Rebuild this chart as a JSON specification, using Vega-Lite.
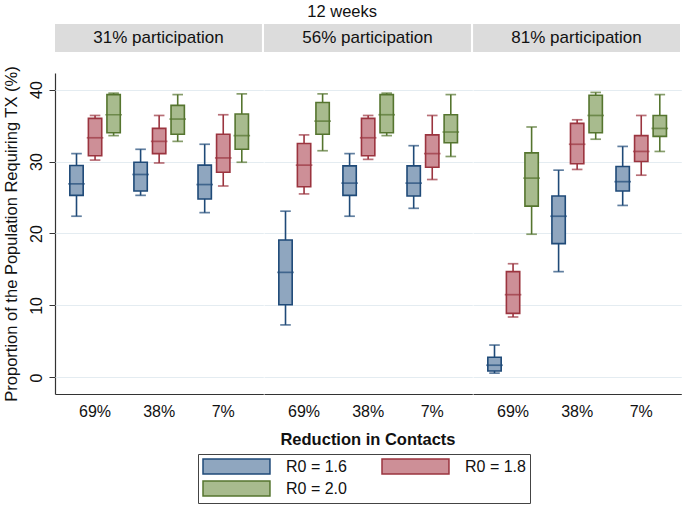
{
  "$schema": "https://vega.github.io/schema/vega-lite/v6.json",
  "padding": {"left": 3, "top": 3, "right": 2, "bottom": 2},
  "background": "white",
  "title": {"text": "12 weeks", "fontSize": 16.5, "fontWeight": "normal", "font": "Liberation Sans", "color": "#111", "anchor": "middle", "offset": 4},
  "config": {
    "font": "Liberation Sans",
    "view": {"stroke": null},
    "axis": {"labelFont": "Liberation Sans", "titleFont": "Liberation Sans", "labelFontSize": 16, "titleFontSize": 16.5, "labelColor": "#111", "titleColor": "#111", "titleFontWeight": "normal", "domainColor": "#333", "tickColor": "#333", "gridColor": "#e4ecf1", "domainWidth": 1.2},
    "legend": {"labelFont": "Liberation Sans", "labelFontSize": 16, "labelColor": "#111"}
  },
  "spacing": 13,
  "vconcat": [
    {
      "width": 625,
      "height": 28,
      "data": {"values": [
        {"participation": "31% participation"},
        {"participation": "56% participation"},
        {"participation": "81% participation"}
      ]},
      "encoding": {
        "x": {"field": "participation", "type": "nominal", "scale": {"paddingInner": 0.01, "paddingOuter": 0}, "axis": null}
      },
      "layer": [
        {"mark": {"type": "rect", "fill": "#dcdcdc"}},
        {"mark": {"type": "text", "fontSize": 17, "font": "Liberation Sans", "color": "#111"}, "encoding": {"text": {"field": "participation"}}}
      ]
    },
    {
      "data": {"values": [
        {"participation": "31% participation", "reduction": "69%", "R0": "R0 = 1.6", "min": 22.4, "q1": 25.3, "median": 26.9, "q3": 29.45, "max": 31.1},
        {"participation": "31% participation", "reduction": "69%", "R0": "R0 = 1.8", "min": 30.2, "q1": 30.8, "median": 33.3, "q3": 36.0, "max": 36.4},
        {"participation": "31% participation", "reduction": "69%", "R0": "R0 = 2.0", "min": 33.6, "q1": 34.0, "median": 36.5, "q3": 39.3, "max": 39.5},
        {"participation": "31% participation", "reduction": "38%", "R0": "R0 = 1.6", "min": 25.3, "q1": 25.9, "median": 28.2, "q3": 29.9, "max": 31.7},
        {"participation": "31% participation", "reduction": "38%", "R0": "R0 = 1.8", "min": 29.8, "q1": 31.1, "median": 32.8, "q3": 34.6, "max": 36.4},
        {"participation": "31% participation", "reduction": "38%", "R0": "R0 = 2.0", "min": 32.8, "q1": 33.8, "median": 35.9, "q3": 37.8, "max": 39.3},
        {"participation": "31% participation", "reduction": "7%", "R0": "R0 = 1.6", "min": 22.9, "q1": 24.8, "median": 26.8, "q3": 29.5, "max": 32.4},
        {"participation": "31% participation", "reduction": "7%", "R0": "R0 = 1.8", "min": 26.6, "q1": 28.5, "median": 30.5, "q3": 33.8, "max": 36.5},
        {"participation": "31% participation", "reduction": "7%", "R0": "R0 = 2.0", "min": 29.9, "q1": 31.7, "median": 33.6, "q3": 36.6, "max": 39.4},
        {"participation": "56% participation", "reduction": "69%", "R0": "R0 = 1.6", "min": 7.3, "q1": 10.1, "median": 14.6, "q3": 19.1, "max": 23.1},
        {"participation": "56% participation", "reduction": "69%", "R0": "R0 = 1.8", "min": 25.5, "q1": 26.5, "median": 29.5, "q3": 32.5, "max": 33.7},
        {"participation": "56% participation", "reduction": "69%", "R0": "R0 = 2.0", "min": 31.5, "q1": 33.8, "median": 35.6, "q3": 38.2, "max": 39.4},
        {"participation": "56% participation", "reduction": "38%", "R0": "R0 = 1.6", "min": 22.4, "q1": 25.3, "median": 27.0, "q3": 29.4, "max": 31.1},
        {"participation": "56% participation", "reduction": "38%", "R0": "R0 = 1.8", "min": 30.3, "q1": 30.8, "median": 33.3, "q3": 36.0, "max": 36.4},
        {"participation": "56% participation", "reduction": "38%", "R0": "R0 = 2.0", "min": 33.6, "q1": 34.0, "median": 36.5, "q3": 39.3, "max": 39.5},
        {"participation": "56% participation", "reduction": "7%", "R0": "R0 = 1.6", "min": 23.5, "q1": 25.2, "median": 27.0, "q3": 29.4, "max": 32.2},
        {"participation": "56% participation", "reduction": "7%", "R0": "R0 = 1.8", "min": 27.5, "q1": 29.2, "median": 31.1, "q3": 33.7, "max": 36.4},
        {"participation": "56% participation", "reduction": "7%", "R0": "R0 = 2.0", "min": 30.7, "q1": 32.6, "median": 34.1, "q3": 36.5, "max": 39.3},
        {"participation": "81% participation", "reduction": "69%", "R0": "R0 = 1.6", "min": 0.6, "q1": 0.9, "median": 1.7, "q3": 2.8, "max": 4.5},
        {"participation": "81% participation", "reduction": "69%", "R0": "R0 = 1.8", "min": 8.4, "q1": 8.9, "median": 11.5, "q3": 14.7, "max": 15.8},
        {"participation": "81% participation", "reduction": "69%", "R0": "R0 = 2.0", "min": 19.9, "q1": 23.8, "median": 27.7, "q3": 31.2, "max": 34.8},
        {"participation": "81% participation", "reduction": "38%", "R0": "R0 = 1.6", "min": 14.7, "q1": 18.6, "median": 22.4, "q3": 25.2, "max": 28.8},
        {"participation": "81% participation", "reduction": "38%", "R0": "R0 = 1.8", "min": 28.9, "q1": 29.7, "median": 32.4, "q3": 35.3, "max": 35.8},
        {"participation": "81% participation", "reduction": "38%", "R0": "R0 = 2.0", "min": 33.1, "q1": 34.0, "median": 36.4, "q3": 39.2, "max": 39.6},
        {"participation": "81% participation", "reduction": "7%", "R0": "R0 = 1.6", "min": 23.9, "q1": 25.9, "median": 27.2, "q3": 29.3, "max": 32.1},
        {"participation": "81% participation", "reduction": "7%", "R0": "R0 = 1.8", "min": 28.1, "q1": 30.0, "median": 31.4, "q3": 33.6, "max": 36.4},
        {"participation": "81% participation", "reduction": "7%", "R0": "R0 = 2.0", "min": 31.4, "q1": 33.5, "median": 34.6, "q3": 36.4, "max": 39.3}
      ]},
      "facet": {
        "column": {
          "field": "participation", "type": "nominal", "title": "Reduction in Contacts",
          "header": {"labels": false, "titleOrient": "bottom", "titleFontSize": 16.5, "titleFontWeight": "bold", "titleFont": "Liberation Sans", "titleColor": "#111", "titlePadding": 3}
        }
      },
      "spacing": 0,
      "resolve": {"axis": {"x": "independent"}},
      "spec": {
        "width": 208.3,
        "height": 321,
        "encoding": {
          "x": {"field": "reduction", "type": "nominal", "sort": ["69%", "38%", "7%"], "scale": {"paddingInner": 0.12, "paddingOuter": 0.185},
                "axis": {"title": null, "ticks": false, "labelAngle": 0, "labelPadding": 9, "labelBaseline": "top", "domainColor": "#333"}},
          "xOffset": {"field": "R0", "type": "nominal", "scale": {"paddingInner": 0.28, "paddingOuter": 0.16}}
        },
        "layer": [
          {
            "mark": {"type": "rule", "strokeWidth": 1.6},
            "encoding": {
              "y": {"field": "min", "type": "quantitative", "scale": {"domain": [-2.3, 42.3], "nice": false, "zero": false},
                    "axis": {"title": "Proportion of the Population Requiring TX (%)", "values": [0, 10, 20, 30, 40], "tickSize": 6, "labelAngle": 270, "labelAlign": "center", "labelBaseline": "alphabetic", "labelPadding": 8, "titlePadding": 9, "grid": true}},
              "y2": {"field": "max"},
              "stroke": {"field": "R0", "type": "nominal", "scale": {"range": ["#1f4a78", "#9b343f", "#55752f"]}, "legend": null}
            }
          },
          {
            "mark": {"type": "bar", "strokeWidth": 1.6},
            "encoding": {
              "y": {"field": "q1", "type": "quantitative"},
              "y2": {"field": "q3"},
              "fill": {"field": "R0", "type": "nominal", "scale": {"range": ["#8fa6bf", "#cd8f97", "#a8bb8e"]},
                       "legend": {"title": null, "orient": "none", "legendX": 143, "legendY": 430, "direction": "horizontal", "columns": 2, "symbolType": "M-1,-1L7.93,-1L7.93,1L-1,1Z", "symbolSize": 225, "symbolStrokeWidth": 1.5, "labelOffset": 67, "columnPadding": 32, "rowPadding": 1, "strokeColor": "#444", "padding": 4,
                                  "encode": {"symbols": {"update": {"stroke": {"signal": "datum.value === 'R0 = 1.6' ? '#1f4a78' : datum.value === 'R0 = 1.8' ? '#9b343f' : '#55752f'"}, "strokeWidth": {"value": 1.5}}}}}},
              "stroke": {"field": "R0", "type": "nominal"}
            }
          },
          {
            "mark": {"type": "tick", "thickness": 0.1, "strokeWidth": 1.6, "fill": "transparent", "size": 15},
            "encoding": {"y": {"field": "median", "type": "quantitative"}, "stroke": {"field": "R0", "type": "nominal"}}
          },
          {
            "mark": {"type": "tick", "thickness": 0.1, "strokeWidth": 1.6, "fill": "transparent", "size": 9},
            "encoding": {"y": {"field": "min", "type": "quantitative"}, "stroke": {"field": "R0", "type": "nominal"}}
          },
          {
            "mark": {"type": "tick", "thickness": 0.1, "strokeWidth": 1.6, "fill": "transparent", "size": 9},
            "encoding": {"y": {"field": "max", "type": "quantitative"}, "stroke": {"field": "R0", "type": "nominal"}}
          }
        ]
      }
    }
  ]
}
